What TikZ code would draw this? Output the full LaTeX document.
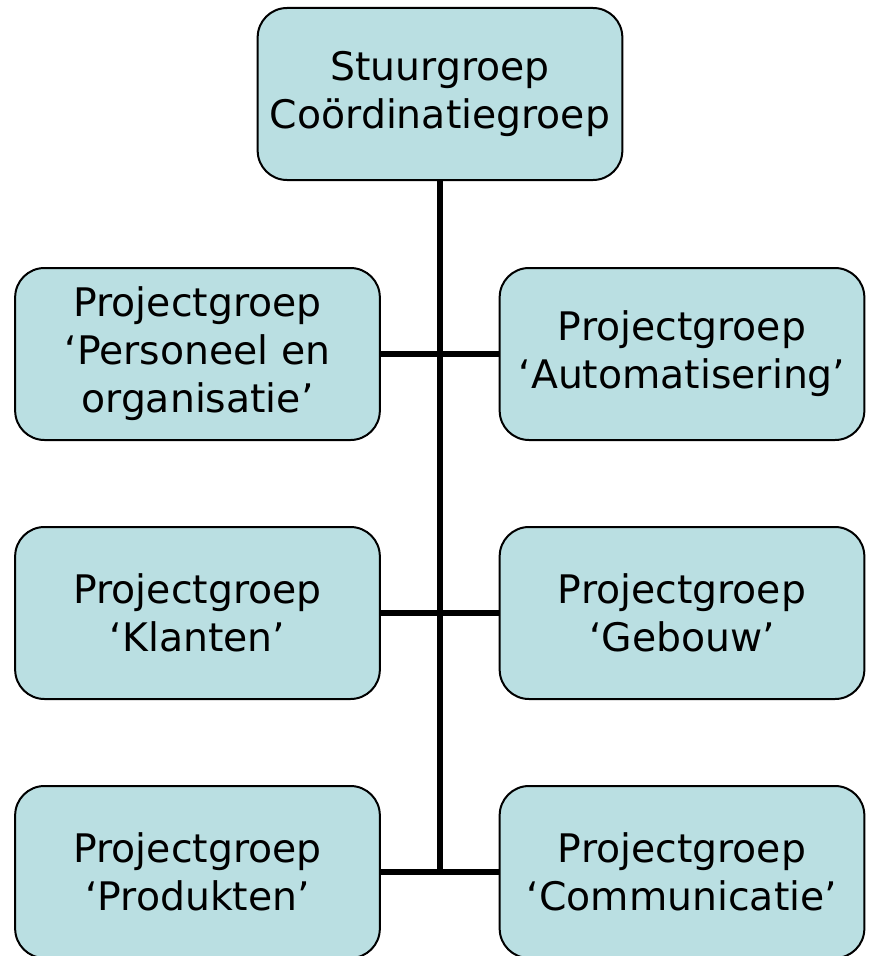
\documentclass[tikz,border=0pt]{standalone}
\usepackage{fontspec}
\setmainfont{DejaVu Sans}
\definecolor{boxfill}{RGB}{186,223,226}
\begin{document}
\begin{tikzpicture}[x=0.75pt,y=-0.75pt,
  groupbox/.style={draw=black, line width=1.5pt, fill=boxfill,
    rounded corners=22pt, minimum width=273.5pt, minimum height=129pt,
    inner sep=0pt, align=center,
    font=\fontsize{29.5pt}{36pt}\selectfont},
  trunk/.style={line width=4.5pt, black}]
  \useasboundingbox (0,0) rectangle (868,956);
  \clip (0,0) rectangle (868,956);

  % top-level group
  \node[groupbox] (top) at (440,94) {Stuurgroep\\Coördinatiegroep};

  % project groups, left and right columns
  \node[groupbox] (pers) at (197.5,354) {Projectgroep\\‘Personeel en\\organisatie’};
  \node[groupbox] (auto) at (682,354) {Projectgroep\\‘Automatisering’};
  \node[groupbox] (klan) at (197.5,613) {Projectgroep\\‘Klanten’};
  \node[groupbox] (gebo) at (682,613) {Projectgroep\\‘Gebouw’};
  \node[groupbox] (prod) at (197.5,872) {Projectgroep\\‘Produkten’};
  \node[groupbox] (comm) at (682,872) {Projectgroep\\‘Communicatie’};

  % connectors
  \coordinate (foot) at (440,873);
  \draw[trunk] (top.south) -- (foot);
  \draw[trunk] (pers.east) -- (auto.west);
  \draw[trunk] (klan.east) -- (gebo.west);
  \draw[trunk] (prod.east) -- (comm.west);
\end{tikzpicture}
\end{document}
